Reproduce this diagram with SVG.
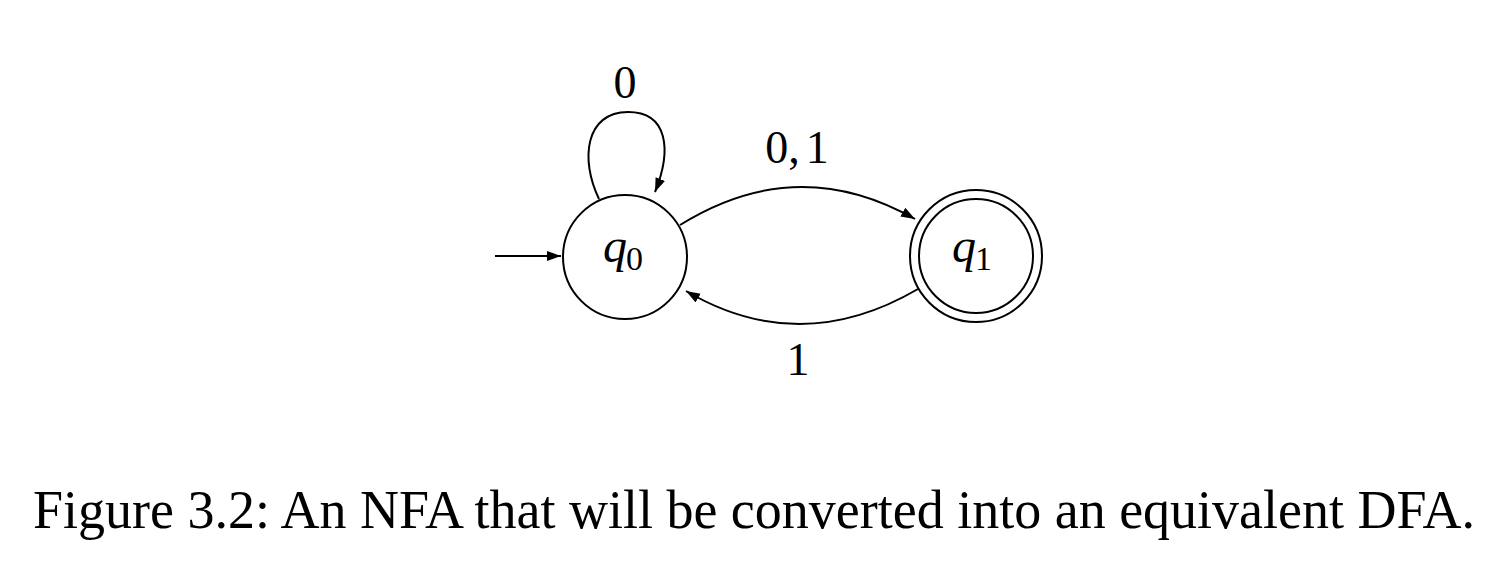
<svg xmlns="http://www.w3.org/2000/svg" width="1504" height="566" viewBox="0 0 1504 566">
<style>
.st{fill:none;stroke:#000;stroke-width:2}
.lbl{font-family:"Liberation Serif","DejaVu Serif",serif;font-size:46px;fill:#000}
.q{font-family:"Liberation Serif","DejaVu Serif",serif;font-style:italic;font-size:48px;fill:#000}
.sub{font-family:"Liberation Serif","DejaVu Serif",serif;font-size:34px;fill:#000}
.cap{font-family:"Liberation Serif","DejaVu Serif",serif;font-size:54px;fill:#000}
</style>
<defs>
<marker id="ah" markerUnits="userSpaceOnUse" markerWidth="15" markerHeight="11" refX="14" refY="5" orient="auto">
<path d="M0,0 L14,5 L0,10 z" fill="#000"/>
</marker>
</defs>
<rect width="1504" height="566" fill="#fff"/>
<g id="connectors">
<line class="st" x1="495" y1="256" x2="561" y2="256" marker-end="url(#ah)"/>
<path class="st" d="M599 199 C580 160 585 112 628 112 C668 112 672 150 655 192" marker-end="url(#ah)"/>
<path class="st" d="M680 225 Q797 152 915 219" marker-end="url(#ah)"/>
<path class="st" d="M918 289 Q800 358 686 291" marker-end="url(#ah)"/>
<text class="lbl" x="625" y="98" text-anchor="middle">0</text>
<text class="lbl" x="797" y="163" text-anchor="middle">0,<tspan dx="6">1</tspan></text>
<text class="lbl" x="798" y="375" text-anchor="middle">1</text>
</g>
<g id="q0">
<circle class="st" cx="625" cy="257" r="62"/>
<text class="q" x="603" y="262">q</text>
<text class="sub" x="626" y="270">0</text>
</g>
<g id="q1">
<circle class="st" cx="976" cy="256" r="66"/>
<circle class="st" cx="976" cy="256" r="57"/>
<text class="q" x="952" y="262">q</text>
<text class="sub" x="975" y="270">1</text>
</g>
<text class="cap" x="33" y="528" textLength="1442" lengthAdjust="spacingAndGlyphs">Figure 3.2: An NFA that will be converted into an equivalent DFA.</text>
</svg>
